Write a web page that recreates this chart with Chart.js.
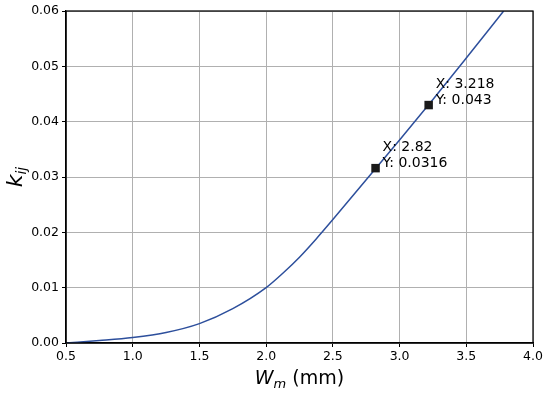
<!DOCTYPE html>
<html>
<head>
<meta charset="utf-8">
<script src="https://cdn.jsdelivr.net/npm/chart.js@4/dist/chart.umd.min.js"></script>
<style>
  html, body { margin: 0; padding: 0; background: #fff; }
  #wrap { width: 550px; height: 395px; }
</style>
</head>
<body>
<div id="wrap"><canvas id="chart-1"></canvas></div>
<script>
// curve
const widths = [0.5, 0.75, 1.0, 1.25, 1.5, 1.75, 2.0, 2.125, 2.25, 2.375, 2.5, 2.75, 3.0, 3.25, 3.5, 3.78];
const kValues = [0, 0.00045, 0.001, 0.0019, 0.0035, 0.0062, 0.0100, 0.0126, 0.0155, 0.0188, 0.0223, 0.0295, 0.0367, 0.0440, 0.0515, 0.0600];

// data tips
const tipX = [2.82, 3.218];
const tipY = [0.0316, 0.043];
const tipXText = ['2.82', '3.218'];
const tipYText = ['0.0316', '0.043'];

const xTicks = [0.5, 1.0, 1.5, 2.0, 2.5, 3.0, 3.5, 4.0];
const yTicks = [0, 0.01, 0.02, 0.03, 0.04, 0.05, 0.06];

const FONT = "'DejaVu Sans', sans-serif";

// box, tip labels and axis titles with subscripts
const extras = {
    id: 'extras',
    afterDatasetsDraw(chart) {
        const ctx = chart.ctx;
        const a = chart.chartArea;
        const xs = chart.scales.x, ys = chart.scales.y;
        ctx.save();
        ctx.strokeStyle = '#000';
        ctx.lineWidth = 1.25;
        ctx.strokeRect(a.left, a.top, a.right - a.left, a.bottom - a.top);

        ctx.fillStyle = '#000';
        ctx.font = '14px ' + FONT;
        ctx.textAlign = 'left';
        ctx.textBaseline = 'middle';
        tipX.forEach((v, i) => {
            const px = xs.getPixelForValue(v), py = ys.getPixelForValue(tipY[i]);
            ctx.fillText('X: ' + tipXText[i], px + 7, py - 21);
            ctx.fillText('Y: ' + tipYText[i], px + 7, py - 5);
        });

        // x title: W_m (mm)
        ctx.textBaseline = 'alphabetic';
        const cx = (a.left + a.right) / 2, by = 384;
        ctx.font = 'italic 19px ' + FONT;
        const wW = ctx.measureText('W').width;
        ctx.font = 'italic 13px ' + FONT;
        const wm = ctx.measureText('m').width;
        ctx.font = '19px ' + FONT;
        const wr = ctx.measureText(' (mm)').width;
        let x0 = cx - (wW + wm + wr) / 2;
        ctx.font = 'italic 19px ' + FONT;
        ctx.fillText('W', x0, by);
        ctx.font = 'italic 13px ' + FONT;
        ctx.fillText('m', x0 + wW, by + 4);
        ctx.font = '19px ' + FONT;
        ctx.fillText(' (mm)', x0 + wW + wm, by);

        // y title: k_ij
        ctx.translate(22, (a.top + a.bottom) / 2);
        ctx.rotate(-Math.PI / 2);
        ctx.font = 'italic 22px ' + FONT;
        const wk = ctx.measureText('k').width;
        ctx.font = 'italic 14px ' + FONT;
        const wij = ctx.measureText('ij').width;
        x0 = -(wk + wij) / 2;
        ctx.font = 'italic 22px ' + FONT;
        ctx.fillText('k', x0, 0);
        ctx.font = 'italic 14px ' + FONT;
        ctx.fillText('ij', x0 + wk, 4);
        ctx.restore();
    }
};

new Chart(document.querySelector('#chart-1').getContext('2d'), {
    type: 'scatter',
    data: {
        datasets: [
            {
                label: 'tips',
                data: tipX.map((v, i) => ({ x: v, y: tipY[i] })),
                pointStyle: 'rect',
                pointRadius: 6,
                backgroundColor: '#1a1a1a',
                borderColor: '#1a1a1a',
                borderWidth: 0,
                showLine: false
            },
            {
                label: 'k_ij',
                data: widths.map((v, i) => ({ x: v, y: kValues[i] })),
                showLine: true,
                borderColor: '#2d4f9c',
                borderWidth: 1.5,
                pointRadius: 0,
                cubicInterpolationMode: 'monotone',
                fill: false
            }
        ]
    },
    options: {
        responsive: true,
        maintainAspectRatio: false,
        animation: false,
        layout: { padding: { top: 11, right: 17, left: 0, bottom: 0 } },
        plugins: { legend: { display: false }, tooltip: { enabled: false } },
        scales: {
            x: {
                type: 'linear',
                min: 0.5, max: 4.0,
                afterBuildTicks: s => { s.ticks = xTicks.map(v => ({ value: v })); },
                afterFit: s => { s.height = 52; },
                ticks: {
                    color: '#000',
                    font: { family: FONT, size: 12.5 },
                    padding: 2,
                    maxRotation: 0,
                    callback: v => Number(v).toFixed(1)
                },
                grid: { color: '#b0b0b0', lineWidth: 1, tickColor: '#000', tickLength: 4 },
                border: { color: '#000', width: 1.25 }
            },
            y: {
                min: 0, max: 0.06,
                afterBuildTicks: s => { s.ticks = yTicks.map(v => ({ value: v })); },
                afterFit: s => { s.width = 66; },
                ticks: {
                    color: '#000',
                    font: { family: FONT, size: 12.5 },
                    padding: 3,
                    callback: v => Number(v).toFixed(2)
                },
                grid: { color: '#b0b0b0', lineWidth: 1, tickColor: '#000', tickLength: 4 },
                border: { color: '#000', width: 1.25 }
            }
        }
    },
    plugins: [extras]
});
</script>
</body>
</html>
